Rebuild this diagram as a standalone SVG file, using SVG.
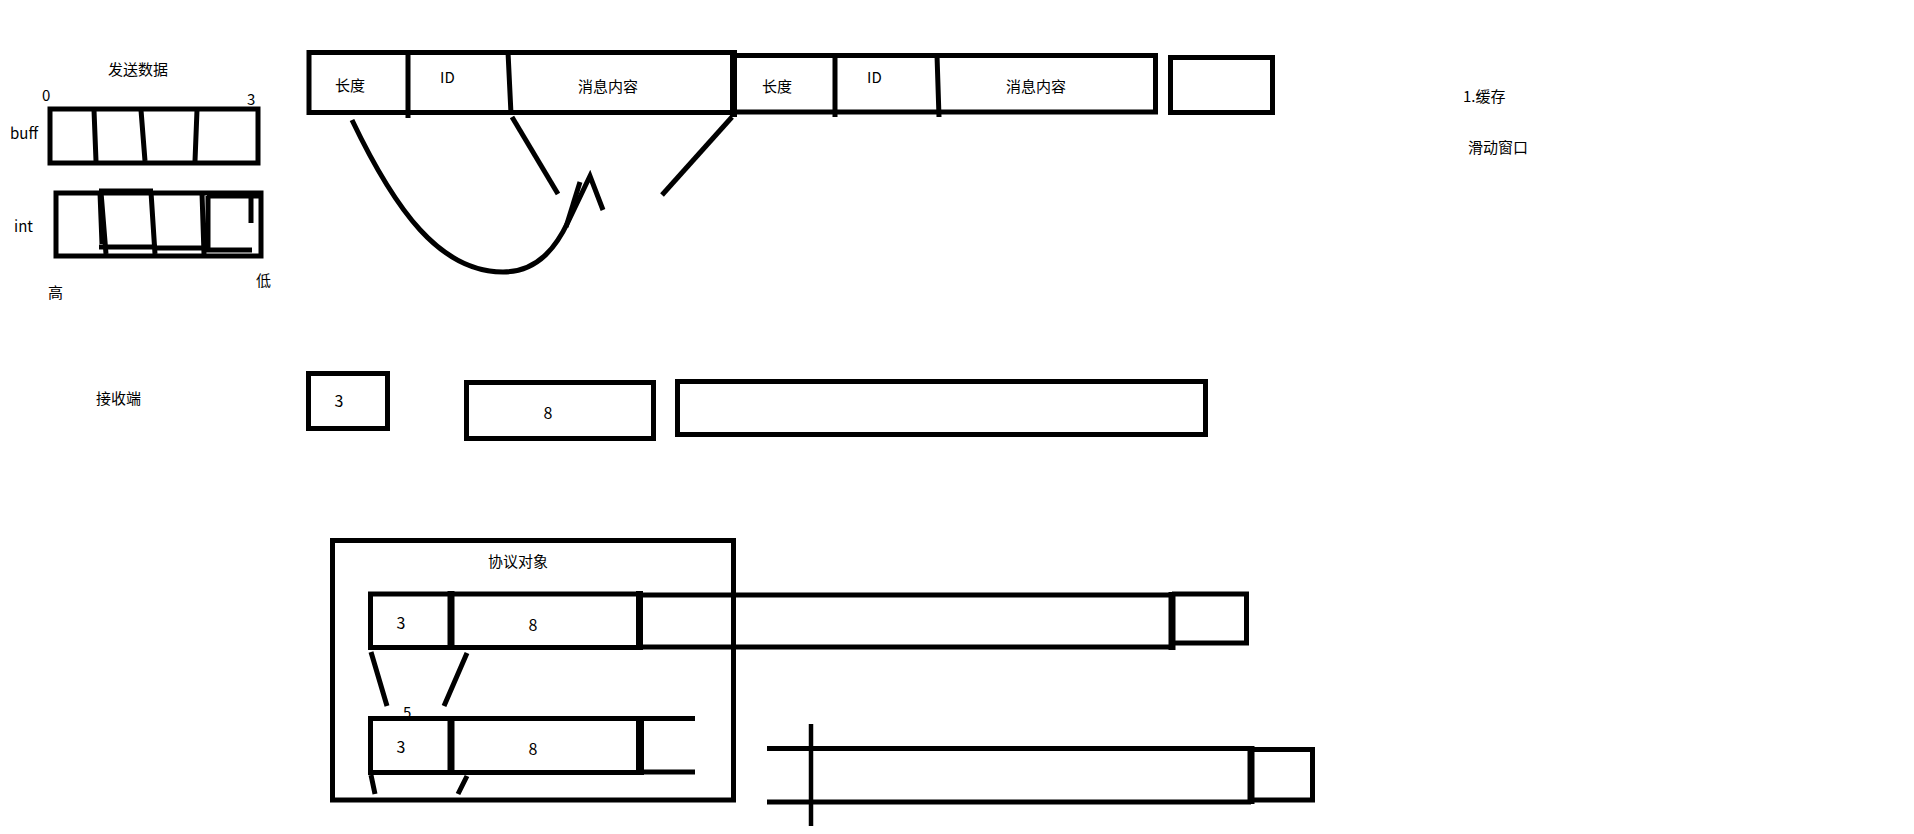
<svg xmlns="http://www.w3.org/2000/svg" width="1914" height="834" viewBox="0 0 1914 834">
<style>
.s{fill:none;stroke:#000;stroke-width:5;stroke-linecap:butt}
.k{fill:none;stroke:#000;stroke-width:7}
.t{font-family:"Noto Sans CJK SC","Noto Sans",sans-serif;font-size:15px;fill:#000}
.m{text-anchor:middle}
.d{font-size:16px}
</style>
<rect width="1914" height="834" fill="#fff"/>

<g id="send-title"><text class="t m" x="138" y="75">发送数据</text></g>

<g id="buff">
<text class="t" x="42" y="101">0</text>
<text class="t" x="247" y="105">3</text>
<text class="t" x="10" y="139">buff</text>
<rect class="s" x="50" y="109" width="208" height="54"/>
<path class="s" d="M94,110 L96,161 M141,110 L145,161 M197,110 L195,161"/>
</g>

<g id="int">
<text class="t" x="14" y="232">int</text>
<rect class="s" x="56" y="193" width="205" height="63"/>
<path class="s" d="M99,191 L153,191 M101,192 L106,254 M100,193 L102,244 M99,247 L157,247 M151,192 L155,254 M157,248 L205,248 M202,193 L204,254 M208,196 L208,250 L252,250 M207,196 L260,196 M251,196 L251,223"/>
<text class="t" x="48" y="298">高</text>
<text class="t" x="256" y="286">低</text>
</g>

<g id="packet-1">
<rect class="s" x="309" y="52.5" width="424" height="60"/>
<path class="s" d="M408,52 L408,118 M508,52 L511,114"/>
<path class="k" d="M733.5,50 V117"/>
<text class="t m" x="350" y="90.5">长度</text>
<text class="t" x="440" y="83">ID</text>
<text class="t m" x="608" y="91.5">消息内容</text>
</g>

<g id="packet-2">
<path class="s" d="M735,55.5 H1155.5 V112 H735"/>
<path class="s" d="M835,55 V117 M937,55 L939,117"/>
<text class="t m" x="777" y="91.5">长度</text>
<text class="t" x="867" y="83">ID</text>
<text class="t m" x="1036" y="91.5">消息内容</text>
</g>

<g id="packet-3"><rect class="s" x="1170.5" y="57.5" width="102" height="55"/></g>

<g id="notes">
<text class="t" x="1463" y="101.5">1.缓存</text>
<text class="t" x="1468" y="152.5">滑动窗口</text>
</g>

<g id="receiver">
<text class="t" x="96" y="403.5">接收端</text>
</g>
<g id="recv-3">
<rect class="s" x="308.5" y="373.5" width="79" height="55"/>
<text class="t m d" x="339" y="407">3</text>
</g>
<g id="recv-8">
<rect class="s" x="466.5" y="382.5" width="187" height="56"/>
<text class="t m d" x="548" y="419">8</text>
</g>
<g id="recv-body"><rect class="s" x="677.5" y="381.5" width="528" height="53"/></g>

<g id="protocol">
<rect class="s" x="332.5" y="540.5" width="401" height="259.5"/>
<text class="t m" x="518" y="567">协议对象</text>
</g>

<g id="proto-row-1">
<rect class="s" x="370.5" y="594" width="269" height="53.5"/>
<path class="k" d="M451,591 V650 M639.5,591 V650"/>
<text class="t m d" x="401" y="629">3</text>
<text class="t m d" x="533" y="631">8</text>
<path class="s" d="M640,595 H1172 M640,647 H1172"/>
<path class="k" d="M1172,592 V650"/>
<path class="s" d="M1172,594 H1246.5 V643 H1172"/>
</g>

<text class="t" x="403" y="718">5</text>

<g id="proto-row-2">
<rect class="s" x="370.5" y="718.5" width="269" height="54"/>
<path class="k" d="M451,716 V775"/>
<path class="s" d="M640,716 V775" style="stroke-width:8"/>
<path class="s" d="M640,718.5 H695 M640,772 H695"/>
<text class="t m d" x="401" y="753">3</text>
<text class="t m d" x="533" y="755">8</text>
</g>

<g id="buffer-window">
<path class="s" d="M767,748.5 H1251 M767,802 H1251"/>
<path class="s" d="M811,724 V826" style="stroke-width:4.5"/>
<path class="k" d="M1251,746 V804"/>
<path class="s" d="M1251,749.5 H1312.5 V800 H1251"/>
</g>

<g id="connectors">
<path class="s" d="M352,120 C395,210 440,272 503,272 C540,272 558,243 568,222 L590,176 L603,210"/>
<path class="s" d="M580,182 L566,227"/>
<path class="s" d="M512,117 L558,194"/>
<path class="s" d="M732,117 L662,195"/>
<path class="s" d="M371,652 L387,706 M467,653 L444,706"/>
<path class="s" d="M371,775 L375,794 M467,776 L458,794"/>
</g>
</svg>
